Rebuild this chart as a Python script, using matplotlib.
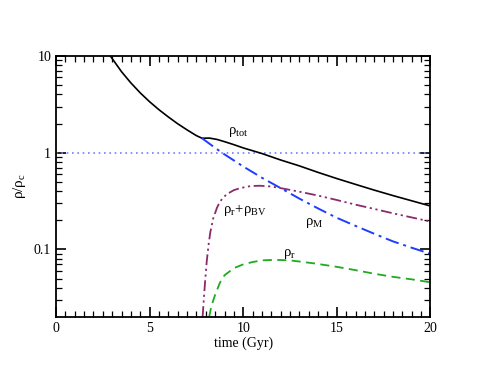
import matplotlib
matplotlib.use("Agg")
import matplotlib.pyplot as plt
from matplotlib.ticker import FixedLocator, NullFormatter

plt.rcParams['font.family'] = ['Liberation Serif', 'DejaVu Serif']
plt.rcParams['mathtext.fontset'] = 'custom'
plt.rcParams['mathtext.rm'] = 'Liberation Serif'
plt.rcParams['mathtext.it'] = 'Liberation Serif'
plt.rcParams['mathtext.bf'] = 'Liberation Serif:bold'

# total density
t_tot = [2.9, 3.5, 4.0, 4.5, 5.0, 5.5, 6.0, 6.5, 7.0, 7.5, 7.8, 8.2, 8.6, 9.0, 9.5, 10.0, 11.0, 12.0, 13.0, 14.0, 15.0, 16.0, 17.0, 18.0, 19.0, 20.0]
rho_tot = [10.0, 6.87, 5.26, 4.15, 3.36, 2.78, 2.34, 1.99, 1.72, 1.5, 1.41, 1.415, 1.37, 1.3, 1.21, 1.12, 0.98, 0.84, 0.73, 0.625, 0.54, 0.47, 0.41, 0.36, 0.318, 0.281]
# matter density (after split)
t_m = [7.8, 8.5, 9.0, 10.0, 11.0, 12.0, 13.0, 14.0, 15.0, 16.0, 17.0, 18.0, 19.0, 20.0]
rho_m = [1.41, 1.12, 0.96, 0.72, 0.55, 0.43, 0.335, 0.265, 0.212, 0.175, 0.145, 0.121, 0.104, 0.09]
# radiation + BV
t_bv = [7.83, 7.87, 7.92, 7.97, 8.05, 8.15, 8.24, 8.4, 8.6, 8.77, 9.1, 9.5, 9.84, 10.4, 10.9, 11.5, 12.0, 13.0, 14.0, 15.0, 16.0, 17.0, 18.0, 19.0, 20.0]
rho_bv = [0.02, 0.026, 0.036, 0.048, 0.075, 0.112, 0.15, 0.21, 0.27, 0.315, 0.37, 0.41, 0.43, 0.452, 0.455, 0.447, 0.43, 0.395, 0.36, 0.324, 0.29, 0.262, 0.236, 0.214, 0.194]
# radiation
t_r = [8.18, 8.3, 8.5, 8.75, 9.0, 9.5, 10.0, 10.5, 11.0, 11.7, 12.5, 13.76, 15.0, 16.0, 17.0, 18.0, 19.0, 20.0]
rho_r = [0.02, 0.026, 0.034, 0.045, 0.054, 0.064, 0.07, 0.074, 0.077, 0.078, 0.077, 0.0718, 0.066, 0.061, 0.056, 0.052, 0.049, 0.0457]

fig = plt.figure(figsize=(4.85, 3.74), dpi=100)
ax = fig.add_axes([0.1155, 0.1524, 0.772, 0.698])

ax.axhline(1.0, color='#6f82ff', ls=(0, (1, 2.2)), lw=1.2)
ax.plot(t_tot, rho_tot, color='black', lw=1.2)
ax.plot(t_m, rho_m, color='#1f3dff', lw=1.4, ls=(0, (7, 2.5, 1.5, 2.5)))
ax.plot(t_bv, rho_bv, color='#8b2a6b', lw=1.3, ls=(0, (6, 2, 1.2, 2, 1.2, 2)))
ax.plot(t_r, rho_r, color='#1faa1f', lw=1.3, ls=(0, (5, 3)))

ax.set_yscale('log')
ax.set_xlim(0, 20)
ax.set_ylim(0.02, 10)
ax.set_yticks([0.1, 1, 10])
ax.set_yticklabels(['0.1', '1', '10'])
ax.yaxis.set_minor_locator(FixedLocator([0.03, 0.04, 0.05, 0.06, 0.07, 0.08, 0.09,
                                         0.2, 0.3, 0.4, 0.5, 0.6, 0.7, 0.8, 0.9,
                                         2, 3, 4, 5, 6, 7, 8, 9]))
ax.yaxis.set_minor_formatter(NullFormatter())
ax.set_xticks([0, 5, 10, 15, 20])
ax.xaxis.set_minor_locator(FixedLocator([i * 0.5 for i in range(41)]))

ax.tick_params(which='both', direction='in', top=True, right=True, labelsize=10)
ax.tick_params(which='major', length=7, width=1.2)
ax.tick_params(which='minor', length=4, width=0.9)
for s in ax.spines.values():
    s.set_linewidth(1.3)

ax.set_xlabel('time (Gyr)', fontsize=10, labelpad=1)
ax.set_ylabel(r'$\rho/\rho_c$', fontsize=11, labelpad=4)

ax.text(9.2, 1.55, r'$\rho_{tot}$', fontsize=10.5)
ax.text(8.9, 0.24, r'$\rho_r\!+\!\rho_{BV}$', fontsize=10.5)
ax.text(13.3, 0.18, r'$\rho_M$', fontsize=10.5)
ax.text(12.1, 0.085, r'$\rho_r$', fontsize=10.5)

fig.savefig('out.png', dpi=100)
